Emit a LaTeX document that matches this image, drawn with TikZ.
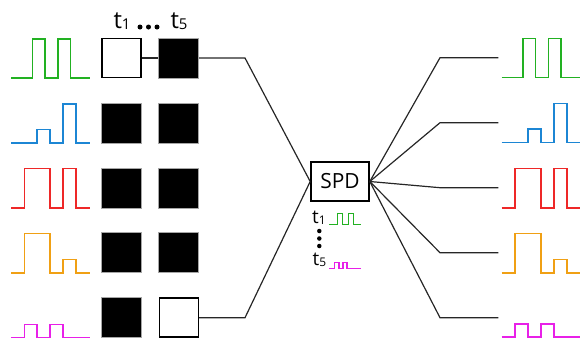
\documentclass[tikz,border=0pt]{standalone}
\usepackage{fontspec}
\setmainfont{Open Sans}
\definecolor{wgreen}{RGB}{34,177,34}
\definecolor{wblue}{RGB}{28,134,212}
\definecolor{wred}{RGB}{238,40,40}
\definecolor{worange}{RGB}{240,160,20}
\definecolor{wmag}{RGB}{232,32,232}
\newcommand{\tsub}[3]{{\fontsize{#1}{#1}\selectfont t\raisebox{-1.2bp}{\fontsize{#2}{#2}\selectfont #3}}}
\tikzset{
  wave/.style={line width=1.6bp, line join=miter},
  smallwave/.style={line width=1.2bp, line join=miter},
  blk/.style={draw=gray!70, fill=black, line width=0.8bp, minimum size=40bp, inner sep=0pt},
  wht/.style={draw=black, fill=white, line width=1.6bp, minimum size=39bp, inner sep=0pt},
  conn/.style={draw=black!85, line width=1.2bp},
  lbl/.style={inner sep=0pt, anchor=base},
  bigdot/.style={circle, fill=black, inner sep=0pt, minimum size=5bp},
  smalldot/.style={circle, fill=black, inner sep=0pt, minimum size=4.5bp},
  pics/gwave/.style={code={\draw[wave,wgreen] (0,0)--(21.3,0)--(21.3,-39)--(33.7,-39)--(33.7,0)--(46.7,0)--(46.7,-39)--(59.3,-39)--(59.3,0)--(78.5,0);}},
  pics/bwave/.style={code={\draw[wave,wblue] (0,0)--(26,0)--(26,-13.4)--(39,-13.4)--(39,0)--(52,0)--(52,-39)--(65,-39)--(65,0)--(78.5,0);}},
  pics/rwave/.style={code={\draw[wave,wred] (0,0)--(13.3,0)--(13.3,-39.4)--(39,-39.4)--(39,0)--(52,0)--(52,-39.4)--(65,-39.4)--(65,0)--(78.5,0);}},
  pics/owave/.style={code={\draw[wave,worange] (0,0)--(13.3,0)--(13.3,-39.4)--(39,-39.4)--(39,0)--(52,0)--(52,-13.4)--(65,-13.4)--(65,0)--(78.5,0);}},
  pics/mwave/.style={code={\draw[wave,wmag] (0,0)--(13.3,0)--(13.3,-13)--(26,-13)--(26,0)--(39,0)--(39,-13)--(52,-13)--(52,0)--(78.5,0);}},
}
\begin{document}
\begin{tikzpicture}[x=1bp,y=-1bp]
\useasboundingbox (0,0) rectangle (581,340);

% left waveforms
\pic at (11,77.7) {gwave};
\pic at (11,142.7) {bwave};
\pic at (11,207.7) {rwave};
\pic at (11,272.7) {owave};
\pic at (11,337.3) {mwave};

% right waveforms
\pic at (501.7,77.4) {gwave};
\pic at (501.7,142.4) {bwave};
\pic at (501.7,207.7) {rwave};
\pic at (501.7,272.7) {owave};
\pic at (501.7,336.8) {mwave};

% boxes
\node[wht] (a1) at (121.5,58) {};
\node[blk] (b1) at (178.8,58) {};
\node[blk] (a2) at (121.5,123) {};
\node[blk] (b2) at (178.8,123) {};
\node[blk] (a3) at (121.5,188) {};
\node[blk] (b3) at (178.8,188) {};
\node[blk] (a4) at (121.5,252.7) {};
\node[blk] (b4) at (178.8,252.7) {};
\node[blk] (a5) at (121.5,317.7) {};
\node[wht] (b5) at (178.8,317.7) {};

% top labels
\node[lbl] (tl1) at (122,28.3) {\tsub{24}{15}{1}};
\node[lbl] (tl5) at (179,28.3) {\tsub{24}{15}{5}};
\node[bigdot] (d1) at (140,27) {};
\node[bigdot] (d2) at (148.5,27) {};
\node[bigdot] (d3) at (157,27) {};

% SPD
\node[draw, line width=1.6bp, minimum width=58bp, minimum height=39bp, inner sep=0pt,
      font=\fontsize{21}{21}\selectfont] (spd) at (340,181.5) {SPD};

% connectors left
\coordinate (kl1) at (245,58);
\coordinate (kl5) at (245,317.7);
\draw[conn] (a1.east) -- (b1.west);
\draw[conn] (b1.east) -- (kl1) -- (spd.west);
\draw[conn] (b5.east) -- (kl5) -- (spd.west);

% connectors right
\coordinate (kr1) at (440,57.7);
\coordinate (kr2) at (440,122.7);
\coordinate (kr3) at (440,187.7);
\coordinate (kr4) at (440,252.7);
\coordinate (kr5) at (440,317.7);
\coordinate (er1) at (498.3,57.7);
\coordinate (er2) at (498.3,122.7);
\coordinate (er3) at (498.3,187.7);
\coordinate (er4) at (498.3,252.7);
\coordinate (er5) at (498.3,317.7);
\foreach \k in {1,...,5}{\draw[conn] (spd.east) -- (kr\k) -- (er\k);}

% labels below SPD
\node[lbl] (bt1) at (319,223.3) {\tsub{19}{12}{1}};
\node[lbl] (bt5) at (319.5,265.5) {\tsub{19}{12}{5}};
\node[smalldot] (e1) at (319.3,231) {};
\node[smalldot] (e2) at (319.3,238.5) {};
\node[smalldot] (e3) at (319.3,246) {};
\draw[smallwave,wgreen] (329.3,224.3)--++(8.4,0)--++(0,-11)--++(5,0)--++(0,11)--++(5.6,0)--++(0,-11)--++(5,0)--++(0,11)--(361,224.3);
\draw[smallwave,wmag] (329.3,268.3)--++(5.4,0)--++(0,-5.6)--++(4.3,0)--++(0,5.6)--++(4,0)--++(0,-5.6)--++(4,0)--++(0,5.6)--(361,268.3);
\end{tikzpicture}
\end{document}
